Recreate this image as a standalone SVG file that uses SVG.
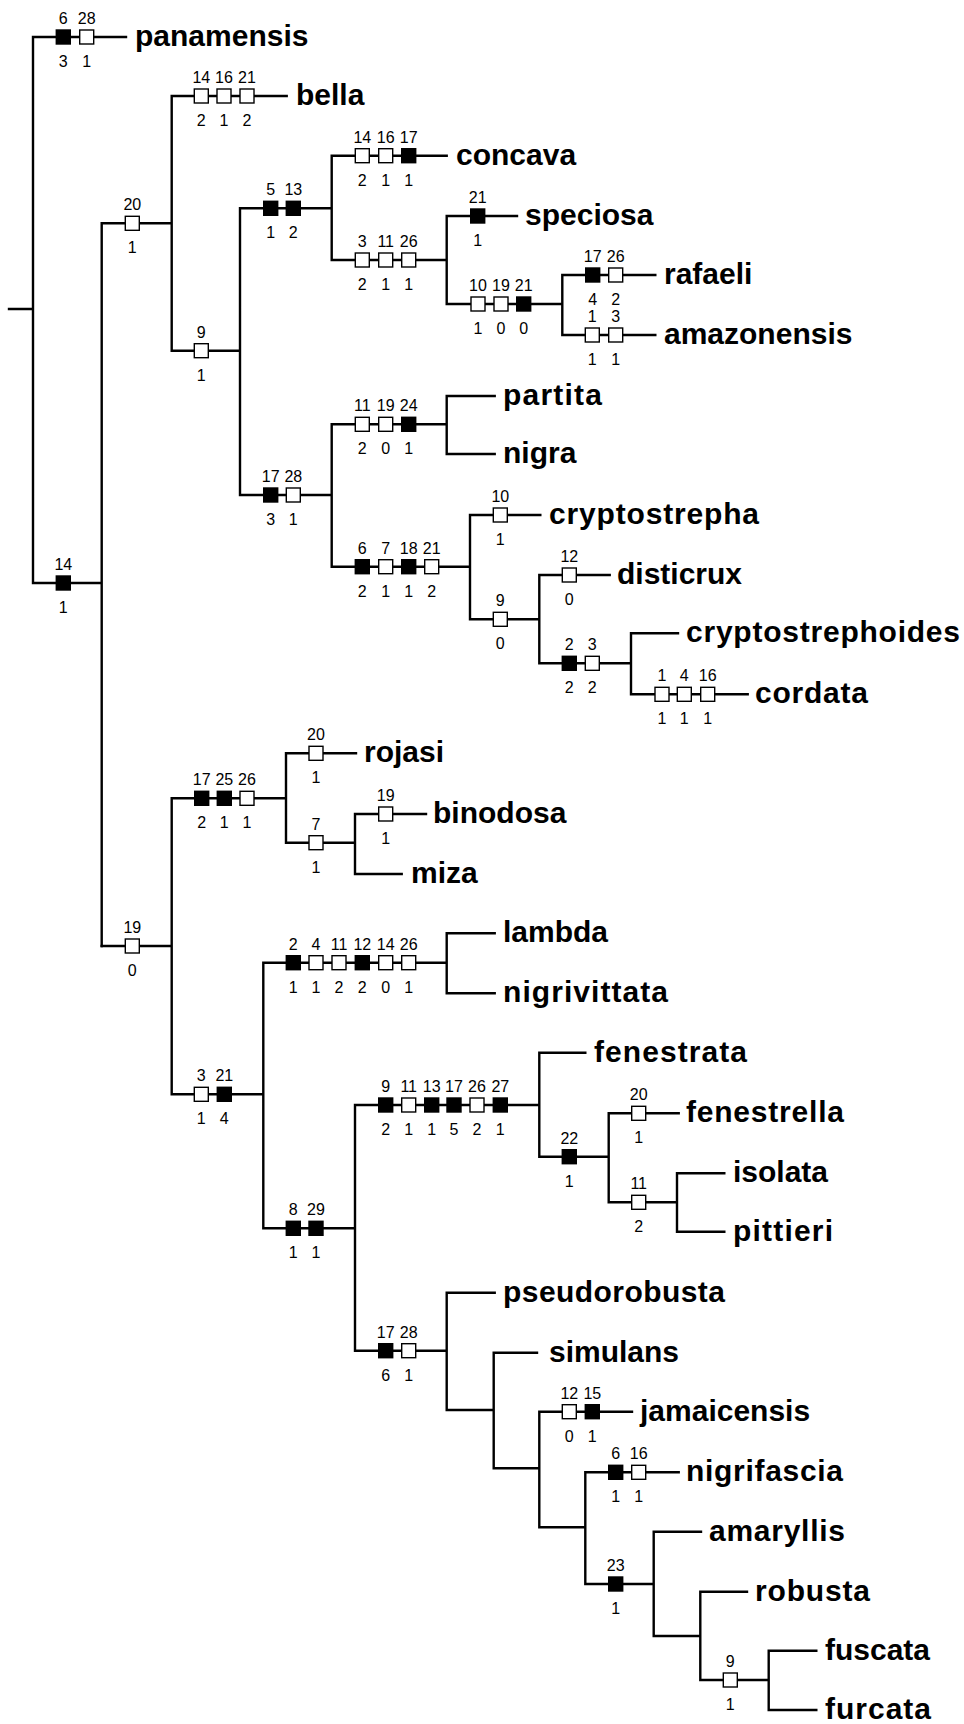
<svg xmlns="http://www.w3.org/2000/svg" width="964" height="1724" viewBox="0 0 964 1724">
<style>
.ln{fill:none;stroke:#000;stroke-width:2.4;stroke-linecap:square}
.w{fill:#fff;stroke:#000;stroke-width:1.4}
.b{fill:#000;stroke:#000;stroke-width:1.4}
.n{font-family:"Liberation Sans Narrow","Arial Narrow","Liberation Sans",Arial,sans-serif;font-size:16px;text-anchor:middle;fill:#000}
.t{font-family:"Liberation Sans",Arial,Helvetica,sans-serif;font-size:30px;font-weight:bold;fill:#000}
</style>
<rect width="964" height="1724" fill="#fff"/>
<g id="connectors" class="ln">
<path d="M9,309H33 M33,37V583 M33,37H126 M33,583H101.7 M101.7,223.3V946 M101.7,223.3H171.7 M171.7,96V350.7 M171.7,96H286.7 M171.7,350.7H240 M240,208.3V495 M240,208.3H331.7 M331.7,155.7V260 M331.7,155.7H446.7 M331.7,260H446.7 M446.7,216V304 M446.7,216H517 M446.7,304H562.3 M562.3,275V335 M562.3,275H655.3 M562.3,335H655.3 M240,495H331.7 M331.7,424.3V566.7 M331.7,424.3H446.7 M446.7,396V454 M446.7,396H494.7 M446.7,454H494.7 M331.7,566.7H470 M470,515V619.3 M470,515H540.3 M470,619.3H539.3 M539.3,575V663.3 M539.3,575H609.7 M539.3,663.3H631 M631,633.3V694.3 M631,633.3H678 M631,694.3H747.7"/>
<path d="M101.7,946H171.7 M171.7,798.3V1094.3 M171.7,798.3H286 M286,753.3V842.7 M286,753.3H356 M286,842.7H355 M355,814V874 M355,814H426 M355,874H401.7 M171.7,1094.3H263.3 M263.3,962.7V1228.3 M263.3,962.7H446.7 M446.7,933.3V993.3 M446.7,933.3H494.7 M446.7,993.3H494.7 M263.3,1228.3H355 M355,1105V1350.7 M355,1105H539.3 M539.3,1052.7V1156.7 M539.3,1052.7H585.3 M539.3,1156.7H608.7 M608.7,1113.3V1202.3 M608.7,1113.3H678.7 M608.7,1202.3H677 M677,1173.3V1231.7 M677,1173.3H724.3 M677,1231.7H724.3 M355,1350.7H446.7 M446.7,1292.7V1410 M446.7,1292.7H494.7 M446.7,1410H493.7 M493.7,1352.7V1468.3 M493.7,1352.7H537 M493.7,1468.3H539.3 M539.3,1411.7V1527.3 M539.3,1411.7H632 M539.3,1527.3H585.3 M585.3,1472.3V1584 M585.3,1472.3H678.7 M585.3,1584H653.7 M653.7,1531.7V1636 M653.7,1531.7H701 M653.7,1636H700.3 M700.3,1591.7V1680 M700.3,1591.7H747 M700.3,1680H768.7 M768.7,1650.7V1710 M768.7,1650.7H816.3 M768.7,1710H816.3"/>
</g>

<g id="chars-panamensis"><rect class="b" x="56.3" y="30" width="14" height="14"/><rect class="w" x="79.7" y="30" width="14" height="14"/><text class="n" x="63.3" y="24">6</text><text class="n" x="86.7" y="24">28</text><text class="n" x="63.3" y="67">3</text><text class="n" x="86.7" y="67">1</text></g>
<g id="chars-14"><rect class="b" x="56.3" y="576" width="14" height="14"/><text class="n" x="63.3" y="570">14</text><text class="n" x="63.3" y="613">1</text></g>
<g id="chars-20"><rect class="w" x="125.3" y="216.3" width="14" height="14"/><text class="n" x="132.3" y="210.3">20</text><text class="n" x="132.3" y="253.3">1</text></g>
<g id="chars-bella"><rect class="w" x="194.3" y="89" width="14" height="14"/><rect class="w" x="217" y="89" width="14" height="14"/><rect class="w" x="240" y="89" width="14" height="14"/><text class="n" x="201.3" y="83">14</text><text class="n" x="224" y="83">16</text><text class="n" x="247" y="83">21</text><text class="n" x="201.3" y="126">2</text><text class="n" x="224" y="126">1</text><text class="n" x="247" y="126">2</text></g>
<g id="chars-5-13"><rect class="b" x="263.7" y="201.3" width="14" height="14"/><rect class="b" x="286.3" y="201.3" width="14" height="14"/><text class="n" x="270.7" y="195.3">5</text><text class="n" x="293.3" y="195.3">13</text><text class="n" x="270.7" y="238.3">1</text><text class="n" x="293.3" y="238.3">2</text></g>
<g id="chars-concava"><rect class="w" x="355.3" y="148.7" width="14" height="14"/><rect class="w" x="378.7" y="148.7" width="14" height="14"/><rect class="b" x="401.7" y="148.7" width="14" height="14"/><text class="n" x="362.3" y="142.7">14</text><text class="n" x="385.7" y="142.7">16</text><text class="n" x="408.7" y="142.7">17</text><text class="n" x="362.3" y="185.7">2</text><text class="n" x="385.7" y="185.7">1</text><text class="n" x="408.7" y="185.7">1</text></g>
<g id="chars-3-11-26"><rect class="w" x="355.3" y="253" width="14" height="14"/><rect class="w" x="378.7" y="253" width="14" height="14"/><rect class="w" x="401.7" y="253" width="14" height="14"/><text class="n" x="362.3" y="247">3</text><text class="n" x="385.7" y="247">11</text><text class="n" x="408.7" y="247">26</text><text class="n" x="362.3" y="290">2</text><text class="n" x="385.7" y="290">1</text><text class="n" x="408.7" y="290">1</text></g>
<g id="chars-speciosa"><rect class="b" x="470.7" y="209" width="14" height="14"/><text class="n" x="477.7" y="203">21</text><text class="n" x="477.7" y="246">1</text></g>
<g id="chars-10-19-21"><rect class="w" x="471" y="297" width="14" height="14"/><rect class="w" x="494" y="297" width="14" height="14"/><rect class="b" x="516.7" y="297" width="14" height="14"/><text class="n" x="478" y="291">10</text><text class="n" x="501" y="291">19</text><text class="n" x="523.7" y="291">21</text><text class="n" x="478" y="334">1</text><text class="n" x="501" y="334">0</text><text class="n" x="523.7" y="334">0</text></g>
<g id="chars-rafaeli"><rect class="b" x="585.7" y="268" width="14" height="14"/><rect class="w" x="608.7" y="268" width="14" height="14"/><text class="n" x="592.7" y="262">17</text><text class="n" x="615.7" y="262">26</text><text class="n" x="592.7" y="305">4</text><text class="n" x="615.7" y="305">2</text></g>
<g id="chars-amazonensis"><rect class="w" x="585.3" y="328" width="14" height="14"/><rect class="w" x="608.7" y="328" width="14" height="14"/><text class="n" x="592.3" y="322">1</text><text class="n" x="615.7" y="322">3</text><text class="n" x="592.3" y="365">1</text><text class="n" x="615.7" y="365">1</text></g>
<g id="chars-9a"><rect class="w" x="194.3" y="343.7" width="14" height="14"/><text class="n" x="201.3" y="337.7">9</text><text class="n" x="201.3" y="380.7">1</text></g>
<g id="chars-17-28a"><rect class="b" x="263.7" y="488" width="14" height="14"/><rect class="w" x="286.3" y="488" width="14" height="14"/><text class="n" x="270.7" y="482">17</text><text class="n" x="293.3" y="482">28</text><text class="n" x="270.7" y="525">3</text><text class="n" x="293.3" y="525">1</text></g>
<g id="chars-11-19-24"><rect class="w" x="355.3" y="417.3" width="14" height="14"/><rect class="w" x="378.7" y="417.3" width="14" height="14"/><rect class="b" x="401.7" y="417.3" width="14" height="14"/><text class="n" x="362.3" y="411.3">11</text><text class="n" x="385.7" y="411.3">19</text><text class="n" x="408.7" y="411.3">24</text><text class="n" x="362.3" y="454.3">2</text><text class="n" x="385.7" y="454.3">0</text><text class="n" x="408.7" y="454.3">1</text></g>
<g id="chars-6-7-18-21"><rect class="b" x="355.3" y="559.7" width="14" height="14"/><rect class="w" x="378.7" y="559.7" width="14" height="14"/><rect class="b" x="401.7" y="559.7" width="14" height="14"/><rect class="w" x="424.7" y="559.7" width="14" height="14"/><text class="n" x="362.3" y="553.7">6</text><text class="n" x="385.7" y="553.7">7</text><text class="n" x="408.7" y="553.7">18</text><text class="n" x="431.7" y="553.7">21</text><text class="n" x="362.3" y="596.7">2</text><text class="n" x="385.7" y="596.7">1</text><text class="n" x="408.7" y="596.7">1</text><text class="n" x="431.7" y="596.7">2</text></g>
<g id="chars-cryptostrepha"><rect class="w" x="493.3" y="508" width="14" height="14"/><text class="n" x="500.3" y="502">10</text><text class="n" x="500.3" y="545">1</text></g>
<g id="chars-9b"><rect class="w" x="493.3" y="612.3" width="14" height="14"/><text class="n" x="500.3" y="606.3">9</text><text class="n" x="500.3" y="649.3">0</text></g>
<g id="chars-disticrux"><rect class="w" x="562.3" y="568" width="14" height="14"/><text class="n" x="569.3" y="562">12</text><text class="n" x="569.3" y="605">0</text></g>
<g id="chars-2-3"><rect class="b" x="562.3" y="656.3" width="14" height="14"/><rect class="w" x="585.3" y="656.3" width="14" height="14"/><text class="n" x="569.3" y="650.3">2</text><text class="n" x="592.3" y="650.3">3</text><text class="n" x="569.3" y="693.3">2</text><text class="n" x="592.3" y="693.3">2</text></g>
<g id="chars-cordata"><rect class="w" x="655" y="687.3" width="14" height="14"/><rect class="w" x="677.3" y="687.3" width="14" height="14"/><rect class="w" x="700.7" y="687.3" width="14" height="14"/><text class="n" x="662" y="681.3">1</text><text class="n" x="684.3" y="681.3">4</text><text class="n" x="707.7" y="681.3">16</text><text class="n" x="662" y="724.3">1</text><text class="n" x="684.3" y="724.3">1</text><text class="n" x="707.7" y="724.3">1</text></g>
<g id="chars-19"><rect class="w" x="125.3" y="939" width="14" height="14"/><text class="n" x="132.3" y="933">19</text><text class="n" x="132.3" y="976">0</text></g>
<g id="chars-17-25-26"><rect class="b" x="194.7" y="791.3" width="14" height="14"/><rect class="b" x="217.3" y="791.3" width="14" height="14"/><rect class="w" x="240" y="791.3" width="14" height="14"/><text class="n" x="201.7" y="785.3">17</text><text class="n" x="224.3" y="785.3">25</text><text class="n" x="247" y="785.3">26</text><text class="n" x="201.7" y="828.3">2</text><text class="n" x="224.3" y="828.3">1</text><text class="n" x="247" y="828.3">1</text></g>
<g id="chars-rojasi"><rect class="w" x="309" y="746.3" width="14" height="14"/><text class="n" x="316" y="740.3">20</text><text class="n" x="316" y="783.3">1</text></g>
<g id="chars-7"><rect class="w" x="309" y="835.7" width="14" height="14"/><text class="n" x="316" y="829.7">7</text><text class="n" x="316" y="872.7">1</text></g>
<g id="chars-binodosa"><rect class="w" x="378.7" y="807" width="14" height="14"/><text class="n" x="385.7" y="801">19</text><text class="n" x="385.7" y="844">1</text></g>
<g id="chars-3-21"><rect class="w" x="194.3" y="1087.3" width="14" height="14"/><rect class="b" x="217.3" y="1087.3" width="14" height="14"/><text class="n" x="201.3" y="1081.3">3</text><text class="n" x="224.3" y="1081.3">21</text><text class="n" x="201.3" y="1124.3">1</text><text class="n" x="224.3" y="1124.3">4</text></g>
<g id="chars-lambda-clade"><rect class="b" x="286.3" y="955.7" width="14" height="14"/><rect class="w" x="309" y="955.7" width="14" height="14"/><rect class="w" x="332" y="955.7" width="14" height="14"/><rect class="b" x="355.3" y="955.7" width="14" height="14"/><rect class="w" x="378.7" y="955.7" width="14" height="14"/><rect class="w" x="401.7" y="955.7" width="14" height="14"/><text class="n" x="293.3" y="949.7">2</text><text class="n" x="316" y="949.7">4</text><text class="n" x="339" y="949.7">11</text><text class="n" x="362.3" y="949.7">12</text><text class="n" x="385.7" y="949.7">14</text><text class="n" x="408.7" y="949.7">26</text><text class="n" x="293.3" y="992.7">1</text><text class="n" x="316" y="992.7">1</text><text class="n" x="339" y="992.7">2</text><text class="n" x="362.3" y="992.7">2</text><text class="n" x="385.7" y="992.7">0</text><text class="n" x="408.7" y="992.7">1</text></g>
<g id="chars-8-29"><rect class="b" x="286.3" y="1221.3" width="14" height="14"/><rect class="b" x="309" y="1221.3" width="14" height="14"/><text class="n" x="293.3" y="1215.3">8</text><text class="n" x="316" y="1215.3">29</text><text class="n" x="293.3" y="1258.3">1</text><text class="n" x="316" y="1258.3">1</text></g>
<g id="chars-fenestrata-clade"><rect class="b" x="378.7" y="1098" width="14" height="14"/><rect class="w" x="401.7" y="1098" width="14" height="14"/><rect class="b" x="424.7" y="1098" width="14" height="14"/><rect class="b" x="447" y="1098" width="14" height="14"/><rect class="w" x="470" y="1098" width="14" height="14"/><rect class="b" x="493.3" y="1098" width="14" height="14"/><text class="n" x="385.7" y="1092">9</text><text class="n" x="408.7" y="1092">11</text><text class="n" x="431.7" y="1092">13</text><text class="n" x="454" y="1092">17</text><text class="n" x="477" y="1092">26</text><text class="n" x="500.3" y="1092">27</text><text class="n" x="385.7" y="1135">2</text><text class="n" x="408.7" y="1135">1</text><text class="n" x="431.7" y="1135">1</text><text class="n" x="454" y="1135">5</text><text class="n" x="477" y="1135">2</text><text class="n" x="500.3" y="1135">1</text></g>
<g id="chars-22"><rect class="b" x="562.3" y="1149.7" width="14" height="14"/><text class="n" x="569.3" y="1143.7">22</text><text class="n" x="569.3" y="1186.7">1</text></g>
<g id="chars-fenestrella"><rect class="w" x="631.7" y="1106.3" width="14" height="14"/><text class="n" x="638.7" y="1100.3">20</text><text class="n" x="638.7" y="1143.3">1</text></g>
<g id="chars-11"><rect class="w" x="631.7" y="1195.3" width="14" height="14"/><text class="n" x="638.7" y="1189.3">11</text><text class="n" x="638.7" y="1232.3">2</text></g>
<g id="chars-17-28b"><rect class="b" x="378.7" y="1343.7" width="14" height="14"/><rect class="w" x="401.7" y="1343.7" width="14" height="14"/><text class="n" x="385.7" y="1337.7">17</text><text class="n" x="408.7" y="1337.7">28</text><text class="n" x="385.7" y="1380.7">6</text><text class="n" x="408.7" y="1380.7">1</text></g>
<g id="chars-jamaicensis"><rect class="w" x="562.3" y="1404.7" width="14" height="14"/><rect class="b" x="585.3" y="1404.7" width="14" height="14"/><text class="n" x="569.3" y="1398.7">12</text><text class="n" x="592.3" y="1398.7">15</text><text class="n" x="569.3" y="1441.7">0</text><text class="n" x="592.3" y="1441.7">1</text></g>
<g id="chars-nigrifascia"><rect class="b" x="608.7" y="1465.3" width="14" height="14"/><rect class="w" x="631.7" y="1465.3" width="14" height="14"/><text class="n" x="615.7" y="1459.3">6</text><text class="n" x="638.7" y="1459.3">16</text><text class="n" x="615.7" y="1502.3">1</text><text class="n" x="638.7" y="1502.3">1</text></g>
<g id="chars-23"><rect class="b" x="608.7" y="1577" width="14" height="14"/><text class="n" x="615.7" y="1571">23</text><text class="n" x="615.7" y="1614">1</text></g>
<g id="chars-9c"><rect class="w" x="723.3" y="1673" width="14" height="14"/><text class="n" x="730.3" y="1667">9</text><text class="n" x="730.3" y="1710">1</text></g>

<g id="taxon-panamensis"><text class="t" x="135" y="46">panamensis</text></g>
<g id="taxon-bella"><text class="t" x="296" y="105">bella</text></g>
<g id="taxon-concava"><text class="t" x="456" y="165">concava</text></g>
<g id="taxon-speciosa"><text class="t" x="525" y="225">speciosa</text></g>
<g id="taxon-rafaeli"><text class="t" x="664" y="284">rafaeli</text></g>
<g id="taxon-amazonensis"><text class="t" x="664" y="344">amazonensis</text></g>
<g id="taxon-partita"><text class="t" x="503" y="405" textLength="99" lengthAdjust="spacing">partita</text></g>
<g id="taxon-nigra"><text class="t" x="503" y="463">nigra</text></g>
<g id="taxon-cryptostrepha"><text class="t" x="549" y="524" textLength="210" lengthAdjust="spacing">cryptostrepha</text></g>
<g id="taxon-disticrux"><text class="t" x="617" y="584">disticrux</text></g>
<g id="taxon-cryptostrephoides"><text class="t" x="686" y="642" textLength="274" lengthAdjust="spacing">cryptostrephoides</text></g>
<g id="taxon-cordata"><text class="t" x="755" y="703" textLength="113" lengthAdjust="spacing">cordata</text></g>
<g id="taxon-rojasi"><text class="t" x="364" y="762">rojasi</text></g>
<g id="taxon-binodosa"><text class="t" x="433" y="823">binodosa</text></g>
<g id="taxon-miza"><text class="t" x="411" y="883">miza</text></g>
<g id="taxon-lambda"><text class="t" x="503" y="942">lambda</text></g>
<g id="taxon-nigrivittata"><text class="t" x="503" y="1002" textLength="165" lengthAdjust="spacing">nigrivittata</text></g>
<g id="taxon-fenestrata"><text class="t" x="594" y="1062" textLength="153" lengthAdjust="spacing">fenestrata</text></g>
<g id="taxon-fenestrella"><text class="t" x="686" y="1122" textLength="158" lengthAdjust="spacing">fenestrella</text></g>
<g id="taxon-isolata"><text class="t" x="733" y="1182">isolata</text></g>
<g id="taxon-pittieri"><text class="t" x="733" y="1241" textLength="100" lengthAdjust="spacing">pittieri</text></g>
<g id="taxon-pseudorobusta"><text class="t" x="503" y="1302" textLength="222" lengthAdjust="spacing">pseudorobusta</text></g>
<g id="taxon-simulans"><text class="t" x="549" y="1362">simulans</text></g>
<g id="taxon-jamaicensis"><text class="t" x="640" y="1421">jamaicensis</text></g>
<g id="taxon-nigrifascia"><text class="t" x="686" y="1481" textLength="157" lengthAdjust="spacing">nigrifascia</text></g>
<g id="taxon-amaryllis"><text class="t" x="709" y="1541" textLength="136" lengthAdjust="spacing">amaryllis</text></g>
<g id="taxon-robusta"><text class="t" x="755" y="1601" textLength="115" lengthAdjust="spacing">robusta</text></g>
<g id="taxon-fuscata"><text class="t" x="825" y="1660">fuscata</text></g>
<g id="taxon-furcata"><text class="t" x="825" y="1719" textLength="106" lengthAdjust="spacing">furcata</text></g>
</svg>
